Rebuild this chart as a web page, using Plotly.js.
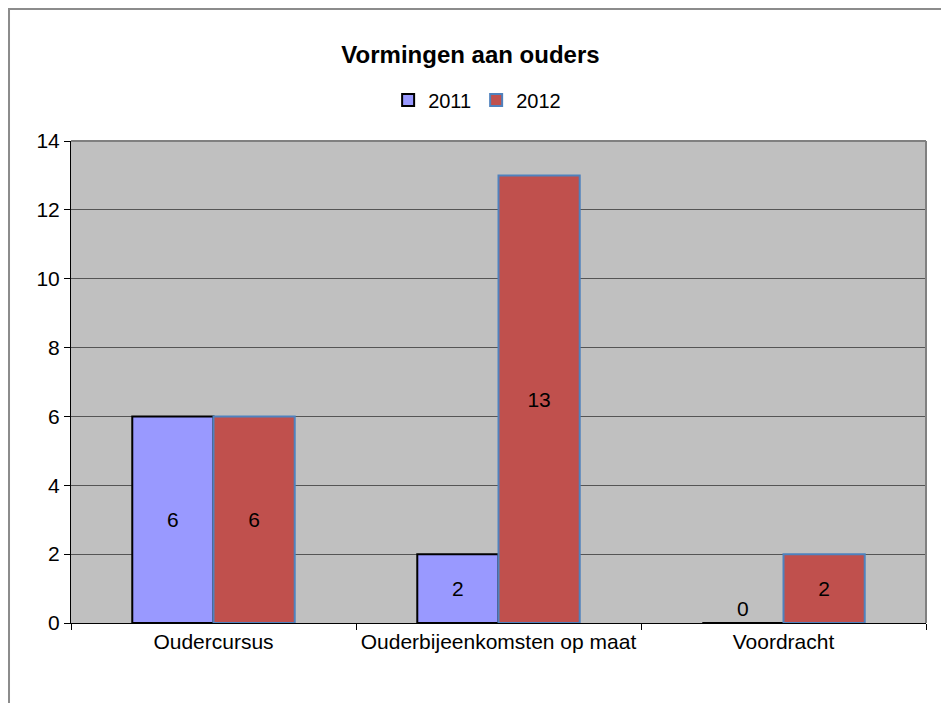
<!DOCTYPE html>
<html>
<head>
<meta charset="utf-8">
<script src="https://cdn.plot.ly/plotly-3.0.1.min.js"></script>
<style>
  body { margin: 0; background: #fff; }
  #chart { width: 941px; height: 703px; }
</style>
</head>
<body>
<div id="chart"></div>
<script>
var categories = ['Oudercursus', 'Ouderbijeenkomsten op maat', 'Voordracht'];
var values2011 = [6, 2, 0];
var values2012 = [6, 13, 2];
var yTicks = [0, 2, 4, 6, 8, 10, 12, 14];

function labelPositions(vals) {
  return vals.map(function(v) { return v === 0 ? 'outside' : 'inside'; });
}

var font = 'Liberation Sans, Arial, sans-serif';

var trace2011 = {
  x: categories,
  y: values2011,
  name: '2011',
  type: 'bar',
  text: values2011.map(String),
  textposition: labelPositions(values2011),
  insidetextanchor: 'middle',
  textfont: {family: font, size: 21, color: '#000'},
  cliponaxis: false,
  marker: {color: '#9999FF', line: {color: '#000000', width: 2}}
};

var trace2012 = {
  x: categories,
  y: values2012,
  name: '2012',
  type: 'bar',
  text: values2012.map(String),
  textposition: labelPositions(values2012),
  insidetextanchor: 'middle',
  textfont: {family: font, size: 21, color: '#000'},
  cliponaxis: false,
  marker: {color: '#C0504D', line: {color: '#4F81BD', width: 2}}
};

var layout = {
  width: 941,
  height: 703,
  margin: {l: 71, r: 15, t: 141, b: 80},
  paper_bgcolor: '#ffffff',
  plot_bgcolor: '#C0C0C0',
  font: {family: font, size: 20, color: '#000'},
  title: {
    text: '<b>Vormingen aan ouders</b>',
    font: {family: font, size: 24, color: '#000'},
    x: 0.5, xanchor: 'center',
    y: 0.922, yanchor: 'middle'
  },
  showlegend: true,
  legend: {
    orientation: 'h',
    x: 0.475, xanchor: 'center',
    y: 1.085, yanchor: 'middle',
    font: {family: font, size: 20, color: '#000'},
    itemwidth: 30,
    tracegroupgap: 0
  },
  barmode: 'group',
  bargap: 0.43,
  bargroupgap: 0,
  xaxis: {
    type: 'category',
    showline: true,
    linecolor: '#000',
    linewidth: 1,
    ticks: 'outside',
    tickson: 'boundaries',
    ticklen: 6,
    tickcolor: '#000',
    showgrid: false,
    tickfont: {family: font, size: 21, color: '#000'}
  },
  yaxis: {
    range: [0, 14],
    tickvals: yTicks,
    showline: true,
    linecolor: '#000',
    linewidth: 1,
    ticks: 'outside',
    ticklen: 6,
    tickcolor: '#000',
    showgrid: true,
    gridcolor: '#555555',
    gridwidth: 1,
    zeroline: false,
    tickfont: {family: font, size: 21, color: '#000'}
  },
  shapes: [
    {type: 'line', xref: 'paper', yref: 'paper', x0: 0, x1: 1, y0: 1, y1: 1,
     line: {color: '#808080', width: 2}},
    {type: 'line', xref: 'paper', yref: 'paper', x0: 1, x1: 1, y0: 0, y1: 1,
     line: {color: '#808080', width: 2}},
    {type: 'rect', xref: 'paper', yref: 'paper', x0: -0.0725, x1: 1.2, y0: -0.3, y1: 1.274,
     line: {color: '#8c8c8c', width: 2}, layer: 'below'}
  ]
};

Plotly.newPlot('chart', [trace2011, trace2012], layout, {displayModeBar: false, staticPlot: true});
</script>
</body>
</html>
